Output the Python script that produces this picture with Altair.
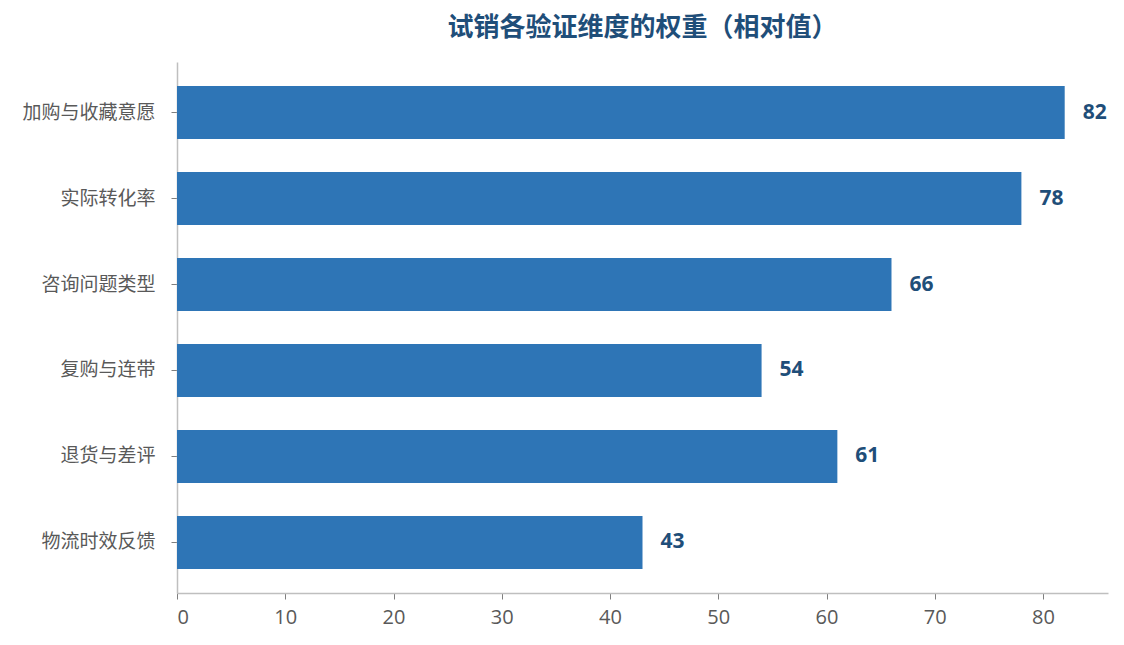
import pandas as pd
import altair as alt

categories = ['加购与收藏意愿', '实际转化率', '咨询问题类型', '复购与连带', '退货与差评', '物流时效反馈']
weights = [82, 78, 66, 54, 61, 43]

data = pd.DataFrame({'dimension': categories, 'weight': weights})

font = 'Open Sans, Noto Sans CJK SC, sans-serif'

base = alt.Chart(data).encode(
    y=alt.Y('dimension:N', title=None, sort=categories,
            scale=alt.Scale(paddingInner=0.384, paddingOuter=0.28),
            axis=alt.Axis(labelFontSize=19, labelColor='#595959', labelFont=font,
                          tickSize=6, tickColor='#7f7f7f', labelPadding=16,
                          domainColor='#bfbfbf', domainWidth=1.5, minExtent=164)),
    x=alt.X('weight:Q', title=None, scale=alt.Scale(domain=[0, 86], nice=False),
            axis=alt.Axis(values=list(range(0, 90, 10)), labelFontSize=20,
                          labelColor='#595959', labelFont=font, tickSize=6,
                          tickColor='#7f7f7f', domainColor='#bfbfbf', domainWidth=1.5,
                          grid=False, labelPadding=8))
)

bars = base.mark_bar(color='#2E75B6')

# value labels to the right of each bar
labels = base.mark_text(align='left', baseline='middle', dx=18, fontSize=21,
                        fontWeight='bold', color='#1F4E79', font=font).encode(
    text=alt.Text('weight:Q')
)

chart = (bars + labels).properties(
    width=931,
    height=531,
    title=alt.TitleParams('试销各验证维度的权重（相对值）', fontSize=26, fontWeight='bold',
                          color='#1F4E79', font=font, offset=21, anchor='middle'),
    padding={'left': 5, 'top': 7, 'right': 5, 'bottom': 5}
).configure_view(stroke=None)

chart.save("out.html", embed_options={"renderer": "svg", "actions": False})
